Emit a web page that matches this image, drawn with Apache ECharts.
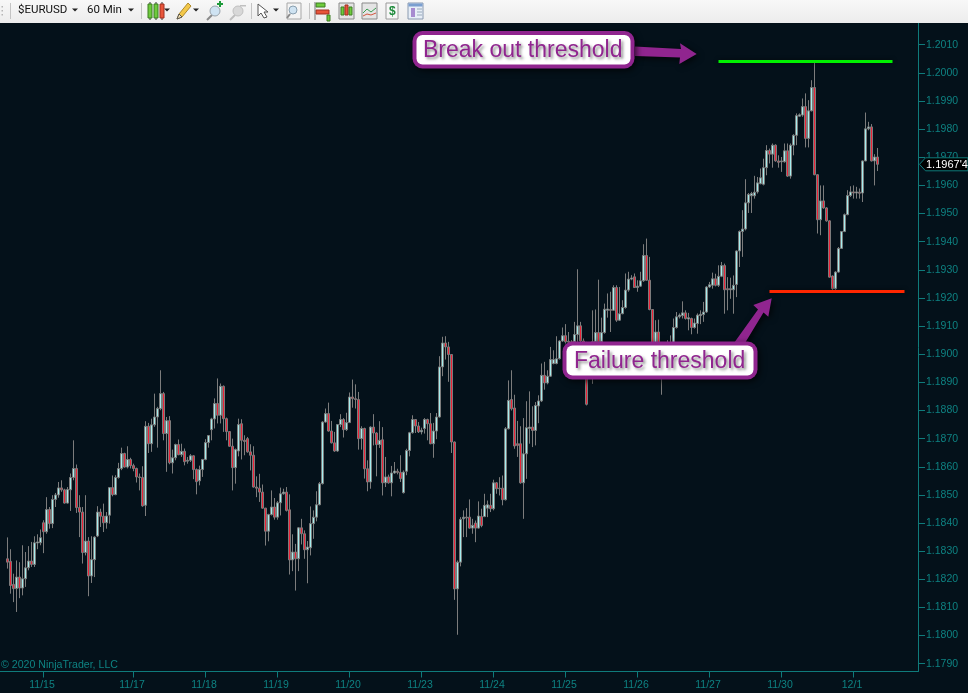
<!DOCTYPE html>
<html><head><meta charset="utf-8">
<style>html,body{margin:0;padding:0;background:#04111a;overflow:hidden}#c{width:968px;height:693px}</style>
<script src="https://cdn.jsdelivr.net/npm/echarts@6/dist/echarts.min.js"></script>
</head><body><div id="c"></div>
<script>
const opens=[1.18273,1.18264,1.18182,1.18167,1.18208,1.18169,1.18202,1.18241,1.18265,1.18253,
1.18329,1.18330,1.18401,1.18369,1.18448,1.18398,1.18484,1.18500,1.18525,1.18518,
1.18471,1.18518,1.18562,1.18594,1.18455,1.18439,1.18295,1.18336,1.18212,1.18270,
1.18354,1.18439,1.18424,1.18401,1.18428,1.18526,1.18501,1.18562,1.18594,1.18647,
1.18599,1.18626,1.18604,1.18594,1.18564,1.18562,1.18463,1.18744,1.18682,1.18749,
1.18777,1.18807,1.18860,1.18718,1.18764,1.18614,1.18632,1.18679,1.18643,1.18655,
1.18620,1.18623,1.18639,1.18590,1.18550,1.18590,1.18626,1.18686,1.18732,1.18770,
1.18825,1.18783,1.18886,1.18771,1.18725,1.18673,1.18597,1.18656,1.18753,1.18694,
1.18700,1.18653,1.18641,1.18528,1.18524,1.18510,1.18453,1.18371,1.18430,1.18457,
1.18421,1.18472,1.18504,1.18510,1.18447,1.18269,1.18297,1.18273,1.18383,1.18362,
1.18305,1.18312,1.18398,1.18421,1.18465,1.18540,1.18759,1.18789,1.18727,1.18685,
1.18656,1.18750,1.18768,1.18732,1.18757,1.18848,1.18842,1.18839,1.18700,1.18736,
1.18593,1.18546,1.18741,1.18720,1.18679,1.18696,1.18543,1.18564,1.18543,1.18578,
1.18584,1.18580,1.18508,1.18584,1.18658,1.18721,1.18768,1.18745,1.18724,1.18736,
1.18768,1.18753,1.18682,1.18727,1.18777,1.18955,1.19040,1.19026,1.18999,1.18688,
1.18166,1.18261,1.18415,1.18421,1.18421,1.18382,1.18400,1.18382,1.18423,1.18423,
1.18453,1.18463,1.18451,1.18543,1.18524,1.18524,1.18483,1.18735,1.18839,1.18809,
1.18682,1.18682,1.18543,1.18646,1.18736,1.18741,1.18729,1.18816,1.18834,1.18925,
1.18898,1.18922,1.18967,1.18967,1.18984,1.19047,1.19066,1.19046,1.19044,1.19044,
1.19070,1.19101,1.19047,1.19014,1.18919,1.18967,1.19044,1.19077,1.19044,1.19077,
1.19156,1.19159,1.19156,1.19237,1.19121,1.19144,1.19166,1.19228,1.19267,1.19275,
1.19237,1.19242,1.19261,1.19351,1.19263,1.19159,1.19032,1.19079,1.19014,1.18990,
1.19014,1.19032,1.19038,1.19095,1.19133,1.19137,1.19147,1.19125,1.19127,1.19095,
1.19109,1.19137,1.19141,1.19150,1.19239,1.19245,1.19268,1.19245,1.19277,1.19315,
1.19233,1.19229,1.19229,1.19248,1.19367,1.19436,1.19445,1.19538,1.19563,1.19563,
1.19577,1.19606,1.19604,1.19663,1.19724,1.19711,1.19743,1.19687,1.19684,1.19684,
1.19723,1.19633,1.19743,1.19778,1.19846,1.19850,1.19880,1.19767,1.19865,1.19948,
1.19638,1.19478,1.19545,1.19520,1.19474,1.19278,1.19233,1.19292,1.19376,1.19436,
1.19496,1.19564,1.19577,1.19573,1.19576,1.19573,1.19687,1.19801,1.19808,1.19687,
1.19701];
const closes=[1.18261,1.18178,1.18167,1.18208,1.18169,1.18202,1.18241,1.18265,1.18253,1.18330,
1.18333,1.18348,1.18369,1.18448,1.18398,1.18484,1.18500,1.18525,1.18518,1.18471,
1.18519,1.18562,1.18594,1.18455,1.18439,1.18295,1.18336,1.18212,1.18270,1.18350,
1.18439,1.18424,1.18401,1.18425,1.18526,1.18501,1.18562,1.18594,1.18647,1.18599,
1.18626,1.18604,1.18594,1.18564,1.18562,1.18461,1.18744,1.18682,1.18749,1.18777,
1.18807,1.18860,1.18718,1.18764,1.18614,1.18632,1.18679,1.18643,1.18655,1.18618,
1.18623,1.18639,1.18590,1.18547,1.18590,1.18626,1.18686,1.18711,1.18770,1.18825,
1.18783,1.18886,1.18771,1.18725,1.18673,1.18597,1.18661,1.18750,1.18694,1.18690,
1.18653,1.18641,1.18528,1.18524,1.18510,1.18453,1.18371,1.18430,1.18457,1.18421,
1.18472,1.18504,1.18510,1.18445,1.18269,1.18297,1.18273,1.18383,1.18362,1.18305,
1.18315,1.18398,1.18421,1.18465,1.18540,1.18759,1.18789,1.18727,1.18685,1.18656,
1.18750,1.18768,1.18732,1.18757,1.18848,1.18842,1.18839,1.18700,1.18736,1.18593,
1.18546,1.18741,1.18720,1.18679,1.18694,1.18543,1.18564,1.18543,1.18578,1.18585,
1.18580,1.18558,1.18581,1.18658,1.18721,1.18768,1.18745,1.18724,1.18730,1.18768,
1.18753,1.18682,1.18727,1.18777,1.18955,1.19040,1.19026,1.18999,1.18688,1.18166,
1.18261,1.18413,1.18421,1.18418,1.18382,1.18392,1.18382,1.18425,1.18391,1.18463,
1.18465,1.18451,1.18543,1.18522,1.18522,1.18483,1.18735,1.18836,1.18806,1.18674,
1.18676,1.18543,1.18646,1.18739,1.18741,1.18729,1.18818,1.18834,1.18925,1.18898,
1.18922,1.18981,1.18981,1.18984,1.19047,1.19066,1.19044,1.19043,1.19032,1.19070,
1.19101,1.19047,1.19014,1.18822,1.18978,1.19044,1.19077,1.19044,1.19077,1.19160,
1.19161,1.19156,1.19237,1.19121,1.19144,1.19166,1.19228,1.19267,1.19271,1.19237,
1.19242,1.19261,1.19351,1.19263,1.19159,1.19038,1.19079,1.19014,1.18990,1.19020,
1.19032,1.19038,1.19095,1.19133,1.19139,1.19147,1.19127,1.19130,1.19095,1.19111,
1.19139,1.19142,1.19150,1.19239,1.19247,1.19268,1.19245,1.19277,1.19315,1.19229,
1.19229,1.19233,1.19245,1.19367,1.19436,1.19445,1.19538,1.19568,1.19571,1.19576,
1.19609,1.19627,1.19663,1.19724,1.19711,1.19743,1.19687,1.19682,1.19687,1.19723,
1.19633,1.19743,1.19778,1.19848,1.19851,1.19880,1.19767,1.19865,1.19948,1.19638,
1.19478,1.19545,1.19520,1.19474,1.19274,1.19233,1.19292,1.19376,1.19436,1.19496,
1.19564,1.19577,1.19573,1.19577,1.19572,1.19687,1.19801,1.19808,1.19687,1.19701,
1.19675];
const highs=[1.18349,1.18307,1.18220,1.18267,1.18261,1.18321,1.18297,1.18318,1.18333,1.18353,
1.18360,1.18377,1.18410,1.18492,1.18457,1.18499,1.18507,1.18546,1.18552,1.18522,
1.18528,1.18576,1.18694,1.18608,1.18499,1.18457,1.18499,1.18350,1.18353,1.18353,
1.18460,1.18451,1.18469,1.18439,1.18528,1.18569,1.18570,1.18614,1.18668,1.18650,
1.18673,1.18632,1.18611,1.18597,1.18576,1.18602,1.18762,1.18756,1.18771,1.18860,
1.18813,1.18943,1.18866,1.18777,1.18780,1.18661,1.18682,1.18697,1.18682,1.18665,
1.18635,1.18645,1.18641,1.18594,1.18604,1.18628,1.18698,1.18713,1.18774,1.18843,
1.18914,1.18896,1.18889,1.18775,1.18727,1.18700,1.18665,1.18771,1.18769,1.18712,
1.18706,1.18680,1.18673,1.18566,1.18575,1.18537,1.18454,1.18433,1.18516,1.18489,
1.18478,1.18526,1.18522,1.18528,1.18502,1.18360,1.18326,1.18386,1.18415,1.18374,
1.18336,1.18459,1.18445,1.18513,1.18546,1.18762,1.18807,1.18828,1.18763,1.18724,
1.18751,1.18787,1.18773,1.18792,1.18864,1.18910,1.18893,1.18866,1.18744,1.18739,
1.18623,1.18744,1.18787,1.18723,1.18762,1.18741,1.18635,1.18572,1.18603,1.18617,
1.18593,1.18641,1.18587,1.18664,1.18724,1.18783,1.18769,1.18759,1.18739,1.18773,
1.18771,1.18791,1.18756,1.18791,1.18993,1.19062,1.19064,1.19044,1.19000,1.18690,
1.18267,1.18421,1.18445,1.18453,1.18484,1.18415,1.18409,1.18477,1.18451,1.18504,
1.18480,1.18504,1.18554,1.18546,1.18563,1.18569,1.18741,1.18907,1.18943,1.18856,
1.18763,1.18744,1.18773,1.18833,1.18868,1.18815,1.18830,1.18854,1.18967,1.18973,
1.18943,1.19026,1.19014,1.19064,1.19050,1.19095,1.19107,1.19079,1.19050,1.19115,
1.19302,1.19115,1.19056,1.19044,1.19014,1.19156,1.19159,1.19265,1.19130,1.19180,
1.19216,1.19222,1.19245,1.19245,1.19239,1.19192,1.19287,1.19293,1.19281,1.19287,
1.19263,1.19293,1.19391,1.19411,1.19346,1.19160,1.19121,1.19123,1.19032,1.19038,
1.19050,1.19067,1.19127,1.19150,1.19145,1.19188,1.19156,1.19147,1.19130,1.19127,
1.19145,1.19156,1.19186,1.19242,1.19257,1.19290,1.19286,1.19316,1.19328,1.19322,
1.19274,1.19272,1.19280,1.19369,1.19440,1.19512,1.19622,1.19573,1.19577,1.19634,
1.19630,1.19660,1.19695,1.19743,1.19731,1.19749,1.19746,1.19707,1.19701,1.19749,
1.19749,1.19749,1.19782,1.19856,1.19856,1.19909,1.19927,1.19903,1.19974,1.20037,
1.19640,1.19600,1.19600,1.19523,1.19476,1.19280,1.19295,1.19381,1.19437,1.19500,
1.19583,1.19597,1.19600,1.19595,1.19589,1.19689,1.19859,1.19826,1.19818,1.19711,
1.19733];
const lows=[1.18238,1.18149,1.18119,1.18084,1.18133,1.18143,1.18173,1.18232,1.18244,1.18244,
1.18307,1.18321,1.18293,1.18362,1.18380,1.18382,1.18457,1.18490,1.18511,1.18469,
1.18469,1.18443,1.18552,1.18436,1.18350,1.18256,1.18285,1.18140,1.18187,1.18208,
1.18350,1.18386,1.18368,1.18380,1.18398,1.18495,1.18499,1.18558,1.18588,1.18597,
1.18594,1.18594,1.18584,1.18544,1.18516,1.18458,1.18425,1.18649,1.18653,1.18742,
1.18668,1.18801,1.18694,1.18582,1.18609,1.18576,1.18623,1.18641,1.18635,1.18605,
1.18611,1.18617,1.18556,1.18502,1.18534,1.18564,1.18623,1.18668,1.18694,1.18736,
1.18754,1.18754,1.18724,1.18694,1.18671,1.18516,1.18540,1.18637,1.18626,1.18641,
1.18650,1.18587,1.18526,1.18492,1.18475,1.18451,1.18320,1.18335,1.18427,1.18412,
1.18412,1.18427,1.18501,1.18441,1.18217,1.18229,1.18160,1.18229,1.18324,1.18273,
1.18186,1.18285,1.18344,1.18406,1.18463,1.18537,1.18757,1.18725,1.18683,1.18653,
1.18653,1.18741,1.18704,1.18727,1.18756,1.18810,1.18807,1.18661,1.18661,1.18558,
1.18513,1.18522,1.18676,1.18566,1.18667,1.18498,1.18528,1.18540,1.18495,1.18575,
1.18573,1.18546,1.18505,1.18570,1.18637,1.18718,1.18720,1.18720,1.18715,1.18718,
1.18694,1.18680,1.18632,1.18698,1.18775,1.18922,1.18981,1.18902,1.18649,1.18127,
1.18003,1.18246,1.18350,1.18350,1.18380,1.18362,1.18332,1.18380,1.18385,1.18421,
1.18421,1.18439,1.18445,1.18504,1.18498,1.18463,1.18480,1.18733,1.18800,1.18664,
1.18635,1.18540,1.18415,1.18557,1.18682,1.18670,1.18676,1.18755,1.18830,1.18874,
1.18893,1.18919,1.18964,1.18964,1.18981,1.19044,1.19038,1.19014,1.19008,1.19014,
1.19044,1.19038,1.18996,1.18818,1.18913,1.18895,1.19038,1.19032,1.19040,1.19073,
1.19130,1.19079,1.19154,1.19115,1.19118,1.19142,1.19162,1.19222,1.19263,1.19236,
1.19222,1.19239,1.19257,1.19261,1.19156,1.19026,1.19014,1.19002,1.18856,1.18979,
1.19008,1.19014,1.19032,1.19091,1.19127,1.19127,1.19123,1.19085,1.19071,1.19091,
1.19073,1.19107,1.19115,1.19147,1.19236,1.19233,1.19241,1.19239,1.19274,1.19144,
1.19156,1.19197,1.19144,1.19203,1.19310,1.19346,1.19440,1.19502,1.19502,1.19553,
1.19571,1.19604,1.19600,1.19636,1.19678,1.19663,1.19684,1.19663,1.19648,1.19681,
1.19630,1.19624,1.19707,1.19743,1.19844,1.19844,1.19735,1.19735,1.19863,1.19636,
1.19429,1.19423,1.19517,1.19471,1.19272,1.19229,1.19229,1.19290,1.19375,1.19434,
1.19494,1.19559,1.19553,1.19553,1.19553,1.19541,1.19686,1.19796,1.19685,1.19600,
1.19651];
const dateLabels=['11/15','11/17','11/18','11/19','11/20','11/23','11/24','11/25','11/26','11/27','11/30','12/1'];
const dateBars=[12,42,66,90,114,138,162,186,210,234,258,282];
const priceTicks=['1.1790','1.1800','1.1810','1.1820','1.1830','1.1840','1.1850','1.1860','1.1870','1.1880','1.1890','1.1900','1.1910','1.1920','1.1930','1.1940','1.1950','1.1960','1.1970','1.1980','1.1990','1.2000','1.2010'];
const breakoutLevel=1.20042;
const failureLevel=1.19225;
const lastPriceText="1.1967'4";

const LEAD=2, SLOTS=306;
const cats=new Array(SLOTS).fill('');
dateBars.forEach((b,k)=>{cats[b+LEAD]=dateLabels[k];});
const candle=[];
for(let i=0;i<SLOTS;i++){
  const j=i-LEAD;
  candle.push(j>=0&&j<opens.length?[opens[j],closes[j],lows[j],highs[j]]:['-','-','-','-']);
}
const TEAL='#0f7b7b', TXT='#0e8282';
const FONT='"Liberation Sans",Arial,sans-serif';
const hasLabel=(i,v)=>v!=='';

const chart=echarts.init(document.getElementById('c'),null,{renderer:'canvas'});
const marks=(level,color,a,b)=>({
  silent:true,symbol:'none',label:{show:false},
  lineStyle:{color:color,width:3,type:'solid',shadowBlur:4,shadowColor:'rgba(0,0,0,0.6)'},
  data:[[{coord:[a,level]},{coord:[b,level]}]]
});
chart.setOption({
  animation:false,
  backgroundColor:'#04111a',
  tooltip:{show:false},
  grid:{left:0,right:50,top:23,bottom:21.5},
  xAxis:{type:'category',data:cats,boundaryGap:true,
    axisLine:{lineStyle:{color:TEAL,width:1}},
    axisTick:{show:true,interval:hasLabel,alignWithLabel:true,length:6,lineStyle:{color:TEAL}},
    axisLabel:{show:true,interval:hasLabel,color:TXT,fontFamily:FONT,fontSize:10.5,margin:8,padding:[0,3,0,0],hideOverlap:false},
    splitLine:{show:false}},
  yAxis:{type:'value',position:'right',scale:true,min:1.178724,max:1.201772,
    axisLine:{show:true,lineStyle:{color:TEAL,width:1}},
    axisTick:{show:true,length:7,customValues:priceTicks.map(Number),lineStyle:{color:TEAL}},
    axisLabel:{show:true,margin:8,padding:[2,0,0,0],color:TXT,fontFamily:FONT,fontSize:10.5,customValues:priceTicks.map(Number),formatter:v=>Number(v).toFixed(4)},
    splitLine:{show:false}},
  series:[
    {type:'candlestick',data:candle,barWidth:2,silent:true,
      itemStyle:{color:'#a4eeee',color0:'#ec2238',borderColor:'#7c7c7c',borderColor0:'#7c7c7c',borderColorDoji:'#7c7c7c',borderWidth:1},
      markLine:marks(breakoutLevel,'#00f000',239,297)},
    {type:'candlestick',data:[],markLine:marks(failureLevel,'#ff2600',256,301)}
  ]
});
// Tag holding the last price, positioned through the axis scale
const tagY=chart.convertToPixel({yAxisIndex:0},closes[closes.length-1]);
const G=[];
const rect=(x,y,w,h,fill,stroke,r,extra)=>G.push(Object.assign({type:'rect',silent:true,shape:{x,y,width:w,height:h,r:r||0},style:{fill:fill||'none',stroke:stroke||null,lineWidth:1}},extra||{}));
const poly=(pts,fill,stroke,extra)=>G.push(Object.assign({type:'polygon',silent:true,shape:{points:pts},style:{fill:fill||'none',stroke:stroke||null,lineWidth:1}},extra||{}));
const line=(x1,y1,x2,y2,c,w)=>G.push({type:'line',silent:true,shape:{x1,y1,x2,y2},style:{stroke:c,lineWidth:w||1}});
const circ=(cx,cy,r,fill,stroke)=>G.push({type:'circle',silent:true,shape:{cx,cy,r},style:{fill:fill||'none',stroke:stroke||null,lineWidth:1}});
const text=(x,y,s,font,fill,extra)=>G.push({type:'text',silent:true,x,y,style:Object.assign({text:s,font:font,fill:fill,textVerticalAlign:'middle',textAlign:'left'},extra||{})});

// price tag
poly([[919.5,tagY],[925.5,tagY-6.5],[968,tagY-6.5],[968,tagY+6.5],[925.5,tagY+6.5]],'#000000',TEAL);
text(926,tagY+.5,lastPriceText,'11px '+FONT,'#ffffff');
// copyright
text(1,665.5,'© 2020 NinjaTrader, LLC','10.6px '+FONT,TXT);

// callouts
const PUR='#90258f';
const shadow={shadowBlur:6,shadowColor:'rgba(0,0,0,0.7)',shadowOffsetX:2,shadowOffsetY:2};
poly([[635,46.5],[681,49],[680,43.3],[696.7,54],[679.3,64],[680,57.5],[635,56]],PUR,null,{style:Object.assign({fill:PUR},shadow)});
poly([[734,343],[758,309.5],[753.3,305],[771.7,298.3],[768.3,316.7],[763.5,312.5],[745,343]],PUR,null,{style:Object.assign({fill:PUR},shadow)});
function callout(x,y,w,h,s,tx){
  G.push({type:'rect',silent:true,shape:{x:x,y:y,width:w,height:h,r:10},style:Object.assign({fill:PUR},shadow)});
  G.push({type:'rect',silent:true,shape:{x:x+4,y:y+4,width:w-8,height:h-8,r:6},style:{fill:'#ffffff'}});
  G.push({type:'text',silent:true,x:tx,y:y+h/2+1.2,style:{text:s,font:'23px '+FONT,fill:PUR,textVerticalAlign:'middle',textAlign:'left',shadowBlur:3,shadowColor:'rgba(60,60,60,0.6)',shadowOffsetX:2,shadowOffsetY:2,textShadowBlur:3,textShadowColor:'rgba(60,60,60,0.6)',textShadowOffsetX:2,textShadowOffsetY:2}});
}
callout(412.5,31,222,37.5,'Break out threshold',423);
callout(562.5,341.5,195,38,'Failure threshold',574);

// toolbar
const UIFONT='Roboto,"Liberation Sans",sans-serif';
G.push({type:'rect',silent:true,shape:{x:0,y:0,width:968,height:23},style:{fill:new echarts.graphic.LinearGradient(0,0,0,1,[{offset:0,color:'#f8f8f8'},{offset:1,color:'#ececec'}])}});
[3,10,141,251,309].forEach((x,k)=>{ if(k===0){[6,10,14].forEach(y=>rect(1.5,y,1.5,1.5,'#b5b5b5'));} else line(x+.5,3,x+.5,19,'#c4c4c4'); });
text(18,10.5,'$EURUSD','11.5px '+UIFONT,'#111111');
text(87,10.5,'60 Min','11.5px '+UIFONT,'#111111');
const tri=x=>poly([[x-3,8.5],[x+3,8.5],[x,11.5]],'#222222');
[75,131,167,196,276].forEach(tri);
// candles icon
line(150,2,150,20,'#333');rect(148,4,4,14,'#6ecb3c','#3c7d22');
line(156,2,156,20,'#333');rect(154,4,4,14,'#6ecb3c','#3c7d22');
line(162,2,162,20,'#333');rect(160,4,4,14,'#e8553a','#a03020');
// pencil
poly([[177,19],[179,14],[188,3],[191,6],[182,17]],'#f3c84a','#b08a2a');poly([[177,19],[179,14],[182,17]],'#f5e1b0','#555');
// zoom +
line(207,20,212,15,'#8a8a8a',2);circ(215,11,5,'#cfe3f2','#9aa4ac');rect(217,3,6,2,'#1d9a3a');rect(219,1,2,6,'#1d9a3a');
// zoom -
line(230,20,235,15,'#bdbdbd',2);circ(238,11,5,'#d8d8d8','#c0c0c0');rect(240,5,6,1.5,'#c0c0c0');
// cursor
poly([[258,4],[258,16],[261,13],[264,18],[267,17],[264,12],[268,12]],'#ffffff','#555555');
// magnifier page
rect(287,3,14,16,'#f4f4f4','#a8a8a8');circ(293,10,4,'#cfe3f2','#8aa0b0');line(290,14,287,18,'#8a8a8a',2);
// icons
rect(316,3,9,4,'#6ecb3c','#3c7d22');rect(316,10,13,4,'#e8553a','#a03020');rect(327,15,3,6,'#6ecb3c','#3c7d22');line(315,2,315,20,'#777');
rect(339,3,15,16,'#e4e4e4','#8a8a8a');rect(341,7,3,8,'#6ecb3c','#3c7d22');rect(345,5,3,10,'#e8553a','#a03020');rect(349,7,3,8,'#6ecb3c','#3c7d22');
rect(362,3,15,16,'#e4e4e4','#8a8a8a');G.push({type:'polyline',silent:true,shape:{points:[[363,13],[367,9],[371,12],[376,8]]},style:{stroke:'#3c9d52',fill:'none'}});G.push({type:'polyline',silent:true,shape:{points:[[363,16],[367,14],[371,15],[376,13]]},style:{stroke:'#d2553e',fill:'none'}});
rect(386,3,12,16,'#f7f7f7','#9a9a9a');text(389,11.5,'$','bold 12px '+FONT,'#1d8a3a');
rect(408,3,15,16,'#e7eef7','#8a9ab0');rect(408.5,3.5,14,3,'#7a9fd0');rect(411,8,4,9,'#a78bd0');line(417,9,422,9,'#9ab');line(417,12,422,12,'#9ab');line(417,15,422,15,'#9ab');

chart.setOption({graphic:{elements:G.map(e=>Object.assign({z:100},e))}});
</script></body></html>
